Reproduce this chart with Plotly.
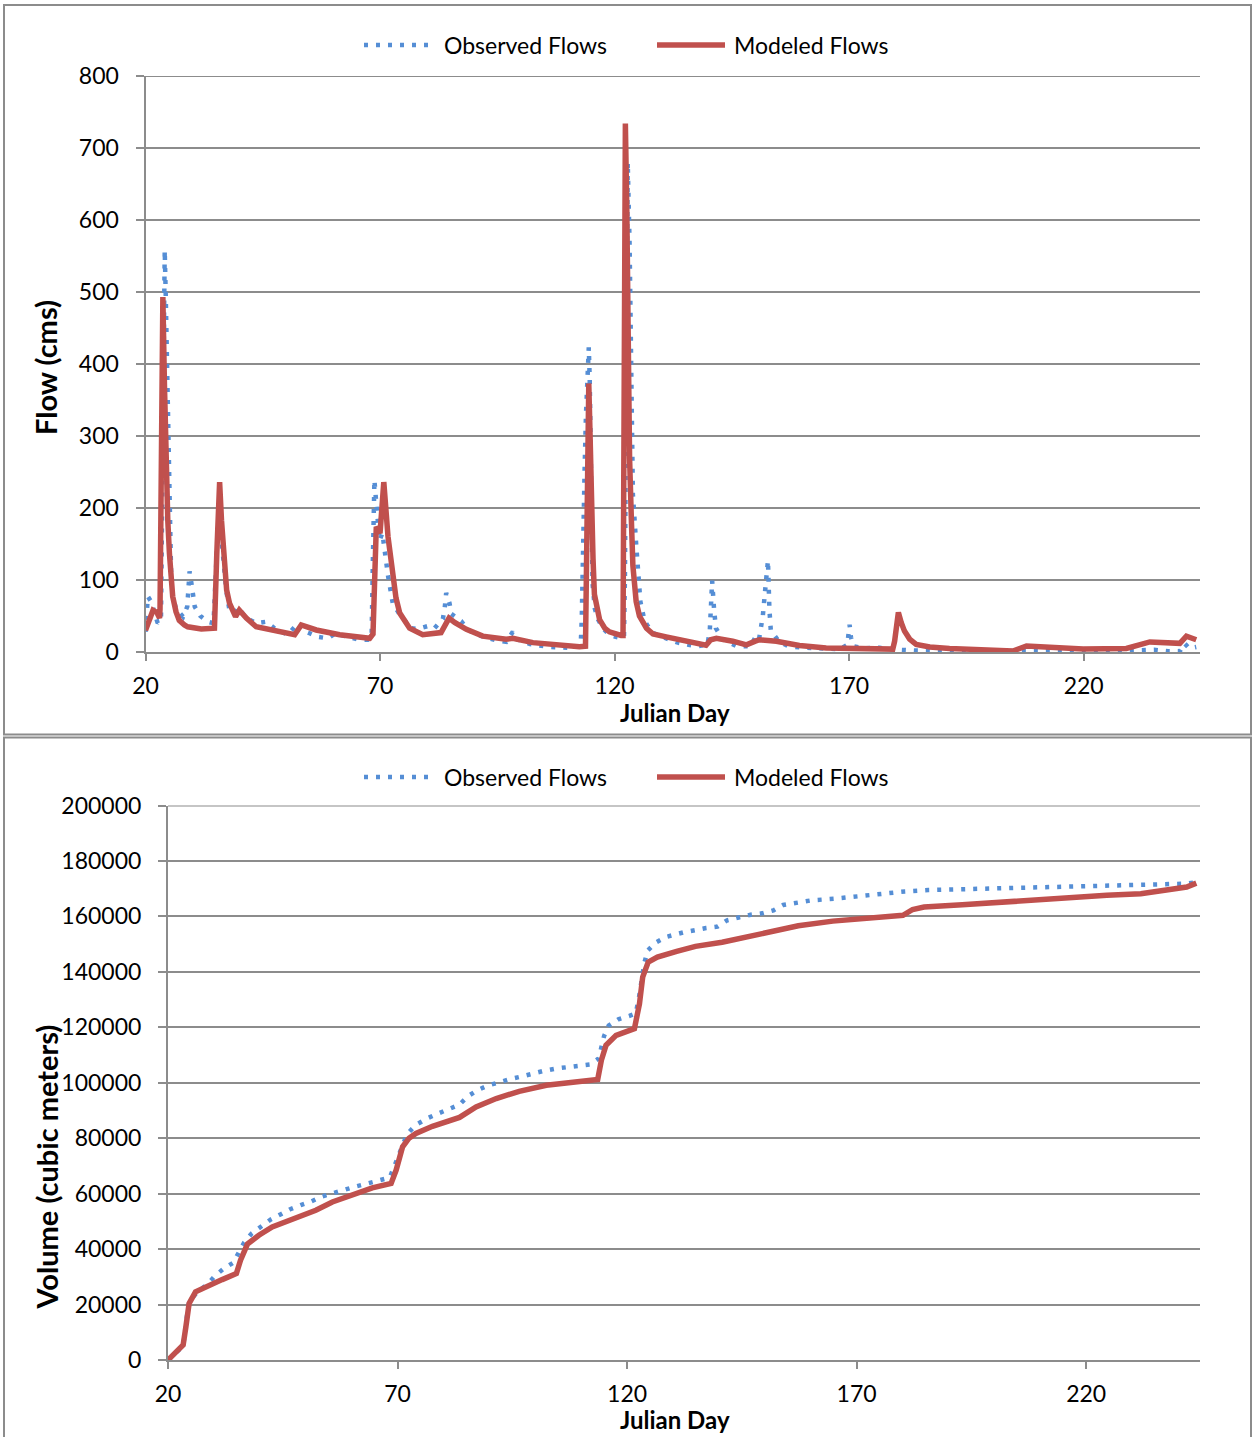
import plotly.graph_objects as go

# ---------------- data ----------------
flow_obs_day = [20.0, 20.5, 21.2, 22.6, 23.3, 23.6, 23.9, 24.1, 24.3, 24.6, 24.8, 25.1, 25.5, 25.9, 26.5,
                28.0, 28.9, 29.4, 29.8, 30.1, 30.5, 31.7, 33.3, 34.5, 35.0, 35.4, 35.8, 36.3, 37.2, 37.9,
                39.2, 39.7, 41.5, 43.6, 45.7, 47.5, 50.3, 52.5, 53.5, 55.0, 56.7, 58.9, 60.5, 62.5, 65.5,
                67.4, 68.2, 68.5, 68.8, 69.2, 69.9, 70.5, 71.3, 71.7, 72.7, 74.2, 75.6, 76.5, 78.0, 80.2,
                81.6, 83.4, 83.8, 84.1, 84.8, 85.2, 87.3, 88.7, 90.5, 92.6, 94.8, 96.9, 98.3, 99.0, 102.0,
                106.0, 110.0, 112.5, 112.8, 113.0, 113.3, 113.6, 113.9, 114.3, 114.5, 114.7, 115.0, 115.3,
                115.8, 116.5, 117.5, 119.0, 121.0, 122.0, 122.2, 122.5, 122.8, 123.2, 123.6, 123.9, 124.6,
                125.5, 126.4, 128.0, 130.5, 133.5, 137.5, 139.8, 140.3, 140.8, 141.2, 141.6, 143.0, 146.0,
                149.0, 150.2, 150.8, 151.6, 152.3, 152.7, 153.0, 153.3, 155.0, 157.0, 160.0, 165.0, 168.0,
                169.6, 170.1, 170.4, 171.0, 173.0, 176.5, 178.0, 180.5, 184.0, 190.0, 200.0, 210.0, 220.0,
                228.0, 233.0, 235.0, 238.0, 240.5, 241.5, 242.5, 244.0]
flow_obs = [28, 77, 70, 40, 45, 300, 556, 558, 500, 420, 368, 230, 95, 75, 60,
            49, 63, 112, 95, 79, 63, 50, 42, 40, 120, 190, 225, 150, 86, 58,
            55, 62, 47, 40, 42, 33, 24, 40, 30, 26, 21, 19, 26, 22, 17,
            17, 21, 137, 239, 206, 155, 165, 123, 106, 68, 52, 41, 33, 32, 36,
            33, 46, 62, 82, 68, 53, 43, 31, 24.5, 20, 16, 14, 28, 18, 11,
            7, 6, 8, 13, 45, 120, 250, 330, 400, 423, 380, 220, 95,
            60, 45, 33, 23, 20, 20, 100, 500, 680, 567, 368, 219, 150,
            70, 43, 27, 20, 13, 8, 10, 30, 99, 60, 33, 18, 8,
            8, 23, 18, 50, 100, 127, 60, 30, 15, 8, 6, 5, 4,
            10, 38, 20, 8, 5, 6, 4, 3, 2, 1.5, 1, 1, 1,
            1.5, 2.5, 3, 1, 1, 12, 5, 7]

flow_mod_day = [20.0, 21.6, 22.4, 23.0, 23.1, 23.5, 23.7, 24.05, 24.4, 24.75, 25.1, 25.45, 25.8, 26.5,
                27.2, 28.3, 29.0, 31.9, 34.7, 35.2, 35.5, 35.8, 36.2, 36.8, 37.3, 37.9, 38.6, 39.2, 40.0,
                41.5, 43.6, 47.1, 51.8, 53.2, 56.4, 61.4, 67.8, 68.5, 69.2, 70.0, 70.8, 71.7, 72.7, 73.4,
                74.2, 75.6, 76.3, 79.1, 83.0, 84.7, 85.9, 88.4, 91.9, 96.9, 98.3, 102.6, 108.3, 112.5,
                113.8, 114.1, 114.5, 114.8, 115.0, 115.4, 115.7, 116.2, 116.8, 117.9, 118.9, 121.4, 121.8,
                122.0, 122.3, 122.6, 122.8, 123.0, 123.2, 123.6, 123.9, 124.6, 125.3, 126.8, 128.2, 131.0,
                135.3, 139.5, 140.5, 141.7, 145.2, 148.1, 150.0, 150.9, 154.5, 159.4, 165.1, 172.2, 179.3,
                179.7, 180.1, 180.5, 181.1, 181.8, 182.9, 184.3, 187.2, 191.4, 204.9, 207.8, 219.9, 229.1,
                234.1, 240.5, 241.9, 244.0]
flow_mod = [30, 58, 55, 47, 60, 350, 493, 368, 253, 183, 137, 100, 77, 56,
            44, 37.5, 35, 32, 33, 137, 200, 236, 183, 114, 86, 68, 56, 49, 58,
            47, 35, 30, 24, 37.5, 30.6, 24, 19, 25, 174, 165, 236, 160, 100, 75,
            54, 37.5, 33, 24, 27, 47, 41, 31.5, 22, 17.6, 19, 13, 9, 7.4,
            8, 200, 373, 294, 219, 130, 80, 60, 45, 33, 28, 23, 23,
            300, 734, 617, 468, 343, 269, 179, 120, 70, 50, 33, 25, 21,
            15, 9.4, 17, 19, 15, 10, 15, 17, 15, 9, 5.5, 4.5, 4,
            15, 45, 55, 41, 29, 18, 10.6, 7, 5, 1.4, 8.3, 4, 5,
            14, 12, 22, 17]

vol_obs_day = [20.0, 23.3, 24.2, 24.6, 26.4, 28.4, 30.2, 32.1, 34.2, 35.4, 36.6, 38.2, 40.3, 42.4, 44.6,
               46.5, 48.9, 51.2, 53.6, 56.0, 58.5, 60.9, 63.5, 65.9, 68.3, 69.3, 70.2, 71.0, 72.1, 74.0,
               76.4, 78.7, 81.1, 83.5, 85.3, 87.4, 89.7, 92.2, 94.7, 97.1, 99.6, 101.9, 104.4, 106.9,
               109.5, 111.9, 113.8, 114.3, 115.0, 116.0, 118.1, 120.5, 121.9, 122.6, 122.9, 123.4, 123.8,
               124.5, 126.2, 128.5, 132.2, 134.8, 137.2, 139.7, 141.8, 144.3, 146.9, 149.4, 151.9, 154.0,
               156.5, 160.2, 165.4, 170.4, 175.6, 180.5, 185.6, 190.6, 195.9, 201.2, 206.2, 211.2, 216.2,
               221.3, 226.5, 231.7, 236.9, 241.9, 244.0]
vol_obs = [0, 5000, 16800, 21000, 24600, 27000, 30300, 32900, 35100, 38600, 42400, 45600, 48300, 50700, 52600,
           54300, 55900, 57200, 59000, 60300, 61400, 62600, 63700, 64800, 65800, 69900, 73900, 77700, 81500, 84800,
           87100, 88800, 90400, 92100, 95100, 97300, 99000, 100300, 101400, 102300, 103500, 104300, 105100, 105700,
           106000, 106600, 108700, 112700, 116900, 120600, 122900, 124100, 125000, 130900, 135100, 139400, 143500,
           147700, 150500, 152600, 154200, 155100, 155800, 156300, 158600, 159600, 160600, 161100, 162200, 164100,
           164900, 165800, 166400, 167200, 168400, 169000, 169500, 169700, 169900, 170200, 170300, 170600, 170800,
           170900, 171100, 171300, 171500, 171800, 172300]

vol_mod_day = [20.0, 23.3, 23.9, 24.6, 26.0, 28.9, 31.8, 34.9, 35.8, 37.3, 39.8, 42.7, 47.1, 52.2, 55.8,
               60.2, 64.5, 68.6, 69.7, 71.1, 72.5, 74.0, 77.6, 83.5, 87.1, 91.5, 96.5, 102.4, 108.2, 113.6,
               114.4, 115.4, 117.6, 121.6, 122.7, 123.4, 124.6, 126.6, 130.8, 134.9, 140.7, 144.9, 150.7,
               157.3, 164.8, 172.2, 180.1, 182.2, 184.7, 193.0, 201.2, 207.9, 216.2, 224.5, 231.9, 236.9,
               241.9, 244.0]
vol_mod = [0, 5400, 12000, 20400, 24600, 27000, 29000, 31200, 36000, 41800, 45000, 48000, 51000, 54000, 57000,
           59800, 62100, 63700, 68500, 76900, 80000, 81700, 84300, 87500, 91300, 94300, 96900, 99100, 100300, 101200,
           108100, 113500, 117100, 119500, 128500, 138100, 143500, 145300, 147400, 149200, 150700, 152300, 154200,
           156600, 158300, 159400, 160400, 162500, 163400, 164200, 165200, 165800, 167000, 167600, 168200, 169400,
           170600, 172000]

x_ticks = [20, 70, 120, 170, 220]
series_names = ["Observed Flows", "Modeled Flows"]

# ---------------- styling ----------------
W, H = 1254, 1437
BLUE = "#558ED5"
RED = "#C0504D"
GRID = "#8C8C8C"
FONT = "Lato"
DOT = "4px,8px"


def px(x):
    return x / W


def py(y):
    return 1 - y / H


fig = go.Figure()

fig.add_trace(go.Scatter(x=flow_obs_day, y=flow_obs, mode="lines", name=series_names[0],
                         line=dict(color=BLUE, width=4.5, dash=DOT), xaxis="x", yaxis="y",
                         showlegend=False))
fig.add_trace(go.Scatter(x=flow_mod_day, y=flow_mod, mode="lines", name=series_names[1],
                         line=dict(color=RED, width=5.5), xaxis="x", yaxis="y", showlegend=False))
fig.add_trace(go.Scatter(x=vol_obs_day, y=vol_obs, mode="lines", name=series_names[0],
                         line=dict(color=BLUE, width=4.5, dash=DOT), xaxis="x2", yaxis="y2",
                         showlegend=False))
fig.add_trace(go.Scatter(x=vol_mod_day, y=vol_mod, mode="lines", name=series_names[1],
                         line=dict(color=RED, width=5.5), xaxis="x2", yaxis="y2", showlegend=False))

tickfont = dict(family=FONT, size=23, color="black")

common_x = dict(range=[20, 244.8], tickvals=x_ticks, showgrid=False, zeroline=False, showline=True,
                linecolor=GRID, linewidth=2, ticks="outside", ticklen=7, tickwidth=2, tickcolor=GRID,
                tickfont=tickfont, ticklabelstandoff=5, automargin=False)
common_y = dict(showgrid=True, gridcolor=GRID, gridwidth=2, zeroline=False, showline=True,
                linecolor=GRID, linewidth=2, ticks="outside", ticklen=8, tickwidth=2, tickcolor=GRID,
                tickfont=tickfont, ticklabelstandoff=12, automargin=False)

fig.update_layout(
    width=W, height=H, margin=dict(l=0, r=0, t=0, b=0, pad=0, autoexpand=False),
    paper_bgcolor="white", plot_bgcolor="white", showlegend=False,
    font=dict(family=FONT, color="black"),
    xaxis=dict(domain=[px(145.5), px(1200)], anchor="y", **common_x),
    yaxis=dict(domain=[py(652), py(76)], anchor="x", range=[0, 800], dtick=100, **common_y),
    xaxis2=dict(domain=[px(168), px(1200)], anchor="y2", **common_x),
    yaxis2=dict(domain=[py(1360), py(805.5)], anchor="x2", range=[0, 200000], dtick=20000,
                tickformat="d", **common_y),
)

shapes = []
# chart borders
shapes.append(dict(type="rect", xref="paper", yref="paper", x0=px(4), x1=px(1251), y0=py(734.5), y1=py(5),
                   line=dict(color=GRID, width=2), fillcolor="rgba(0,0,0,0)", layer="below"))
shapes.append(dict(type="rect", xref="paper", yref="paper", x0=px(4), x1=px(1251), y0=py(1445), y1=py(737.5),
                   line=dict(color=GRID, width=2), fillcolor="rgba(0,0,0,0)", layer="below"))
# top gridlines (at the upper end of each value axis)
shapes.append(dict(type="line", xref="x domain", yref="y", x0=0, x1=1, y0=800, y1=800,
                   line=dict(color=GRID, width=2), layer="below"))
shapes.append(dict(type="line", xref="x2 domain", yref="y2", x0=0, x1=1, y0=200000, y1=200000,
                   line=dict(color=GRID, width=2), layer="below"))

annotations = []
for ly in (45, 777):
    shapes.append(dict(type="line", xref="paper", yref="paper", x0=px(364), x1=px(432), y0=py(ly), y1=py(ly),
                       line=dict(color=BLUE, width=4.5, dash=DOT)))
    shapes.append(dict(type="line", xref="paper", yref="paper", x0=px(657), x1=px(725), y0=py(ly), y1=py(ly),
                       line=dict(color=RED, width=5.5)))
    annotations.append(dict(xref="paper", yref="paper", x=px(442), y=py(ly), xanchor="left", yanchor="middle",
                            text=series_names[0], showarrow=False, font=dict(family=FONT, size=23)))
    annotations.append(dict(xref="paper", yref="paper", x=px(732), y=py(ly), xanchor="left", yanchor="middle",
                            text=series_names[1], showarrow=False, font=dict(family=FONT, size=23)))

title_font_x = dict(family=FONT, size=24, color="black")
title_font_y = dict(family=FONT, size=29, color="black")
annotations.append(dict(xref="paper", yref="paper", x=px(675), y=py(712), text="<b>Julian Day</b>",
                        showarrow=False, font=title_font_x, xanchor="center", yanchor="middle"))
annotations.append(dict(xref="paper", yref="paper", x=px(675), y=py(1419), text="<b>Julian Day</b>",
                        showarrow=False, font=title_font_x, xanchor="center", yanchor="middle"))
annotations.append(dict(xref="paper", yref="paper", x=px(45.5), y=py(367.5), text="<b>Flow (cms)</b>",
                        showarrow=False, font=title_font_y, textangle=-90, xanchor="center", yanchor="middle"))
annotations.append(dict(xref="paper", yref="paper", x=px(45.5), y=py(1167), text="<b>Volume (cubic meters)</b>",
                        showarrow=False, font=title_font_y, textangle=-90, xanchor="center", yanchor="middle"))

fig.update_layout(shapes=shapes, annotations=annotations)

fig.write_html("out.html")
